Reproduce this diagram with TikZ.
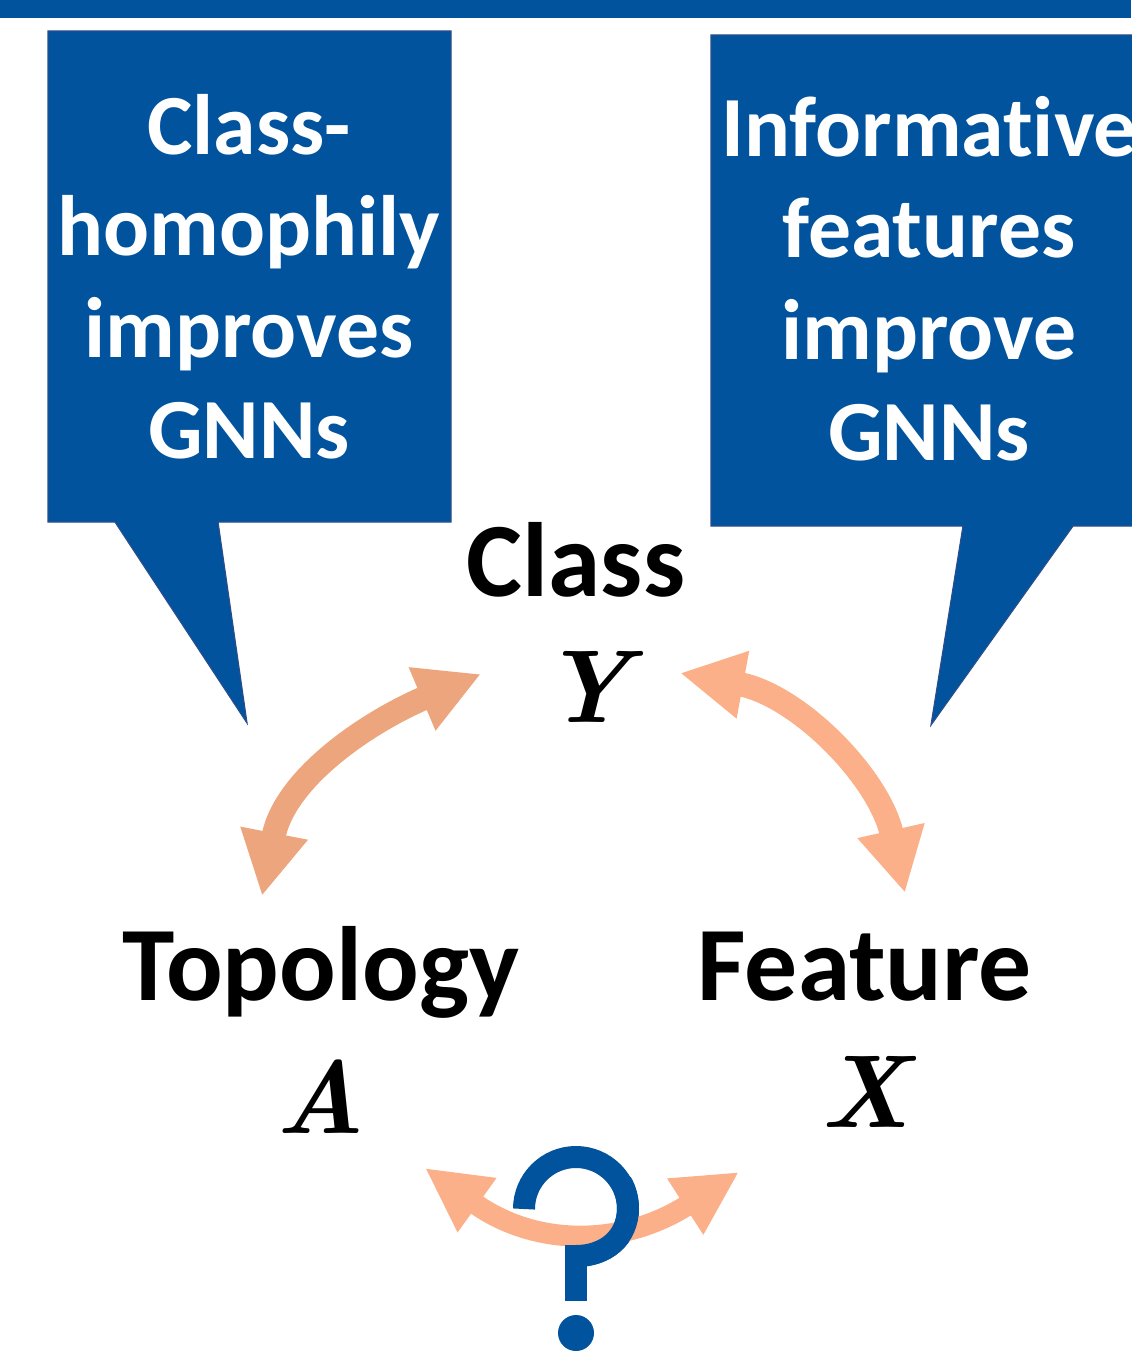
\documentclass[tikz,border=0pt]{standalone}
\usepackage{fontspec}
\newfontfamily\calfont{Carlito}[Ligatures={NoCommon}]
\usetikzlibrary{arrows.meta}
\definecolor{bblue}{RGB}{1,83,158}
\definecolor{bedge}{RGB}{40,78,140}
\definecolor{arrl}{RGB}{237,165,126}
\definecolor{arrr}{RGB}{251,176,137}
\tikzset{
  callbox/.style={fill=bblue,draw=bedge,line width=1.2bp},
  calltext/.style={text=white,font=\calfont\bfseries\fontsize{86}{101}\selectfont,anchor=base,inner sep=0pt},
  labeltext/.style={text=black,font=\calfont\bfseries\fontsize{106}{120}\selectfont,anchor=base,inner sep=0pt},
  vartext/.style={text=black,font=\bfseries\itshape\fontsize{104}{110}\selectfont,anchor=base,inner sep=0pt},
  bigarrow/.style={line width=24bp,{Triangle[length=64bp,width=64bp]}-{Triangle[length=64bp,width=64bp]}},
  smallarrow/.style={line width=21bp,{Triangle[length=64bp,width=62bp]}-{Triangle[length=64bp,width=62bp]}},
  qmark/.style={draw=bblue,line width=22bp,line cap=butt}
}
\begin{document}
\begin{tikzpicture}[x=1bp,y=-1bp]
\useasboundingbox (0,0) rectangle (1131,1366);
% top bar
\fill[bblue] (0,0) rectangle (1131,18);
% callouts
\path[callbox] (48,31) -- (451,31) -- (451,522) -- (218,522) -- (247,723) -- (115,522) -- (48,522) -- cycle;
\path[callbox] (711,35) -- (1140,35) -- (1140,526) -- (1073,526) -- (931,725) -- (963,526) -- (711,526) -- cycle;
% callout texts
\node[calltext] (l1) at (249,155) {Class-};
\node[calltext] (l2) at (249,256) {homophily};
\node[calltext] (l3) at (249,357) {improves};
\node[calltext] (l4) at (249,458) {GNNs};
\node[calltext] (r1) at (929,157) {Informative};
\node[calltext] (r2) at (929,258) {features};
\node[calltext] (r3) at (929,359) {improve};
\node[calltext] (r4) at (929,460) {GNNs};
% labels
\node[labeltext] (cls) at (576,596) {Class};
\node[vartext] (yv) at (586,722) {Y};
\node[labeltext] (top) at (321,1000) {Topology};
\node[vartext] (av) at (320,1133) {A};
\node[labeltext] (fea) at (865,1000) {Feature};
\node[vartext] (xv) at (865,1127) {X};
% arrow end points
\coordinate (yl) at (481,674);
\coordinate (at) at (262,896);
\coordinate (yr) at (680,673);
\coordinate (xt) at (905,893);
\coordinate (ab) at (425,1168);
\coordinate (xb) at (739,1172);
\draw[arrl,bigarrow] (yl) .. controls (370,721) and (285,777) .. (at);
\draw[arrr,bigarrow] (yr) .. controls (798,695) and (879,777) .. (xt);
% question mark (hook)
\draw[qmark] (524,1209) arc[start angle=180,end angle=360,radius=52]
  .. controls (628,1238) and (605,1256) .. (576,1256);
% bottom arrow
\draw[arrr,smallarrow] (ab) .. controls (537,1248) and (624,1246) .. (xb);
% question mark front part
\draw[qmark] (621,1182) arc[start angle=330,end angle=360,radius=52]
  .. controls (628,1238) and (605,1256) .. (576,1256);
\draw[qmark] (576,1245) -- (576,1301);
\fill[bblue] (576,1333) circle[radius=18];
\end{tikzpicture}
\end{document}
